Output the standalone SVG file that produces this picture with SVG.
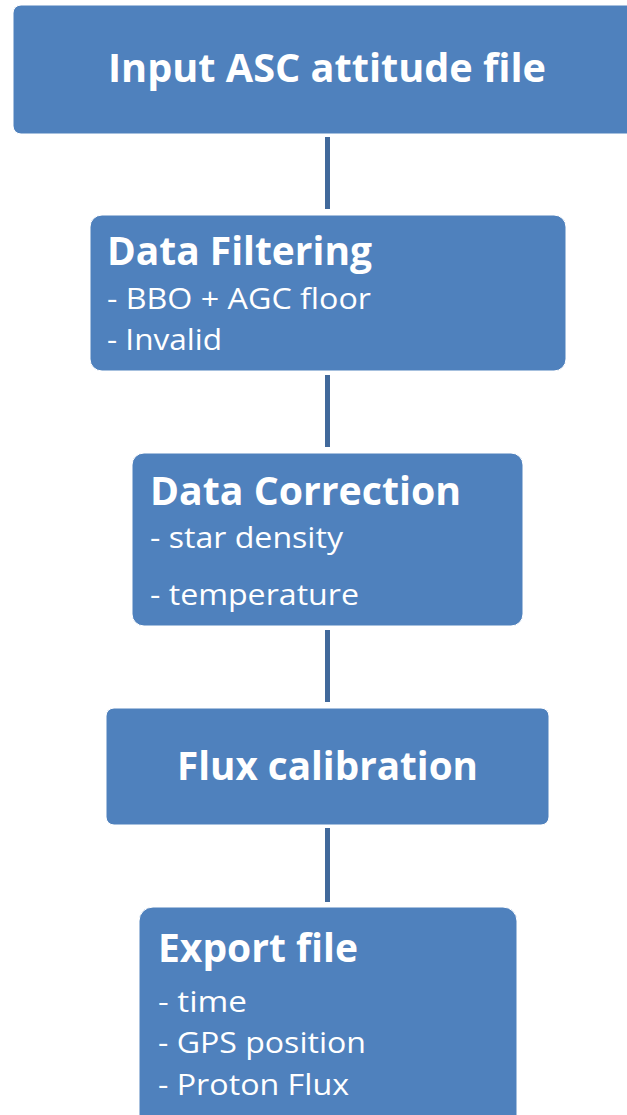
<svg xmlns="http://www.w3.org/2000/svg" width="627" height="1115" viewBox="0 0 627 1115">
<style>
.box{fill:#4F81BD;stroke:#ffffff;stroke-width:1}
.t{font-family:"Open Sans","Liberation Sans",sans-serif;fill:#ffffff}
.h{font-weight:bold;font-size:39px}
.s{font-size:29px}
.c{stroke:#41699B;stroke-width:5;fill:none}
</style>
<rect width="627" height="1115" fill="#ffffff"/>
<g id="connectors">
<line class="c" x1="327.5" y1="137" x2="327.5" y2="209"/>
<line class="c" x1="327.5" y1="375" x2="327.5" y2="447"/>
<line class="c" x1="327.5" y1="630" x2="327.5" y2="702"/>
<line class="c" x1="327.5" y1="828" x2="327.5" y2="902"/>
</g>
<g id="node-input">
<rect class="box" x="13" y="5" width="640" height="129" rx="8"/>
<text class="t h" x="108" y="82" font-size="40" textLength="438" lengthAdjust="spacingAndGlyphs">Input ASC attitude file</text>
</g>
<g id="node-filtering">
<rect class="box" x="90" y="215" width="476" height="156" rx="12"/>
<text class="t h" x="107" y="265" textLength="265" lengthAdjust="spacingAndGlyphs">Data Filtering</text>
<text class="t s" x="107" y="309" textLength="264" lengthAdjust="spacingAndGlyphs">- BBO + AGC floor</text>
<text class="t s" x="107" y="350" textLength="115" lengthAdjust="spacingAndGlyphs">- Invalid</text>
</g>
<g id="node-correction">
<rect class="box" x="132" y="453" width="391" height="173" rx="12"/>
<text class="t h" x="150" y="505" textLength="311" lengthAdjust="spacingAndGlyphs">Data Correction</text>
<text class="t s" x="150" y="548" textLength="193" lengthAdjust="spacingAndGlyphs">- star density</text>
<text class="t s" x="150" y="605" textLength="209" lengthAdjust="spacingAndGlyphs">- temperature</text>
</g>
<g id="node-flux">
<rect class="box" x="106" y="708" width="443" height="117" rx="8"/>
<text class="t h" x="177" y="780" textLength="301" lengthAdjust="spacingAndGlyphs">Flux calibration</text>
</g>
<g id="node-export">
<rect class="box" x="139" y="907" width="378" height="240" rx="14"/>
<text class="t h" x="158" y="962" textLength="200" lengthAdjust="spacingAndGlyphs">Export file</text>
<text class="t s" x="158" y="1012" textLength="89" lengthAdjust="spacingAndGlyphs">- time</text>
<text class="t s" x="158" y="1053" textLength="208" lengthAdjust="spacingAndGlyphs">- GPS position</text>
<text class="t s" x="158" y="1095" textLength="191" lengthAdjust="spacingAndGlyphs">- Proton Flux</text>
</g>
</svg>
